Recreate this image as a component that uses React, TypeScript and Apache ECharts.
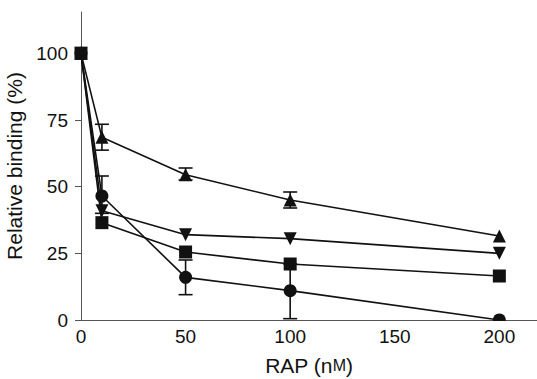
import React, { useEffect, useRef } from "react";
import * as echarts from "echarts";

const xValues = [0, 10, 50, 100, 200];
const squareVals = [100, 36.5, 25.5, 21, 16.5];
const triUpVals = [100, 68.5, 54.5, 45, 31.5];
const triDownVals = [100, 41, 32, 30.5, 25];
const circleVals = [100, 46.5, 16, 11, 0];

// error bars: [x, low, high]
const triUpErr = [
  [10, 63.7, 73.4],
  [50, 52.5, 57],
  [100, 42, 48],
];
const circleErr = [
  [10, 40, 54],
  [50, 9.5, 22.5],
  [100, 0.5, 21],
];

const yTicks = [0, 25, 50, 75, 100];
const xTicks = [0, 50, 100, 150, 200];

const FONT = "Liberation Sans, Arial, Helvetica, sans-serif";

export default function App() {
  const ref = useRef<HTMLDivElement>(null);
  useEffect(() => {
    if (!ref.current) return;
    const chart = echarts.init(ref.current, null, { renderer: "svg" });
    const pair = (ys: number[]) => xValues.map((x, i) => [x, ys[i]]);
    const lineSeries = (name: string, ys: number[], symbol: string, size: number, rotate = 0) => ({
      type: "line",
      name,
      data: pair(ys),
      symbol,
      symbolSize: size,
      symbolRotate: rotate,
      showAllSymbol: true,
      clip: false,
      lineStyle: { color: "#111", width: 1.6 },
      itemStyle: { color: "#111", borderWidth: 0 },
      z: 3,
    });
    const errSeries = (data: number[][]) => ({
      type: "custom",
      data,
      encode: { x: 0, y: [1, 2] },
      z: 2,
      renderItem: (params: any, api: any) => {
        const x = api.value(0);
        const lo = api.coord([x, api.value(1)]);
        const hi = api.coord([x, api.value(2)]);
        const hw = 7;
        const style = { stroke: "#111", lineWidth: 1.6 };
        return {
          type: "group",
          children: [
            { type: "line", shape: { x1: lo[0], y1: lo[1], x2: hi[0], y2: hi[1] }, style },
            { type: "line", shape: { x1: lo[0] - hw, y1: lo[1], x2: lo[0] + hw, y2: lo[1] }, style },
            { type: "line", shape: { x1: hi[0] - hw, y1: hi[1], x2: hi[0] + hw, y2: hi[1] }, style },
          ],
        };
      },
    });
    chart.setOption({
      animation: false,
      backgroundColor: "#fff",
      grid: { left: 81, right: 0, top: 12, bottom: 59, containLabel: false, outerBoundsMode: "none" },
      xAxis: {
        type: "value",
        min: 0,
        max: 218,
        name: "RAP (n{sm|M})",
        nameLocation: "middle",
        nameGap: 35,
        nameTextStyle: {
          fontFamily: FONT,
          fontSize: 21,
          color: "#111",
          rich: { sm: { fontFamily: FONT, fontSize: 16, color: "#111" } },
        },
        splitLine: { show: false },
        axisLine: { show: true, lineStyle: { color: "#555", width: 1 } },
        axisTick: { show: false },
        axisLabel: {
          customValues: xTicks,
          fontFamily: FONT,
          fontSize: 19,
          color: "#111",
          margin: 7,
        },
      },
      yAxis: {
        type: "value",
        min: 0,
        max: 115.5,
        name: "Relative binding (%)",
        nameLocation: "middle",
        nameGap: 48,
        nameRotate: 90,
        nameTextStyle: { fontFamily: FONT, fontSize: 21, color: "#111" },
        splitLine: { show: false },
        axisLine: { show: true, lineStyle: { color: "#555", width: 1 } },
        axisTick: { show: true, customValues: yTicks, length: 6, lineStyle: { color: "#555", width: 1 } },
        axisLabel: {
          customValues: yTicks,
          fontFamily: FONT,
          fontSize: 19,
          color: "#111",
          margin: 13,
        },
      },
      graphic: [
        {
          type: "rect",
          shape: { x: 82, y: 321, width: 455, height: 6 },
          style: { fill: "#fff" },
          z: 100,
        },
      ],
      series: [
        errSeries(triUpErr),
        errSeries(circleErr),
        lineSeries("circle", circleVals, "circle", 13),
        lineSeries("triDown", triDownVals, "triangle", 13, 180),
        lineSeries("triUp", triUpVals, "triangle", 13),
        lineSeries("square", squareVals, "rect", 13),
      ],
    });
    return () => chart.dispose();
  }, []);
  return (
    <div
      ref={ref}
      style={{ position: "fixed", left: 0, top: 0, width: 537, height: 379, background: "#fff" }}
    />
  );
}
